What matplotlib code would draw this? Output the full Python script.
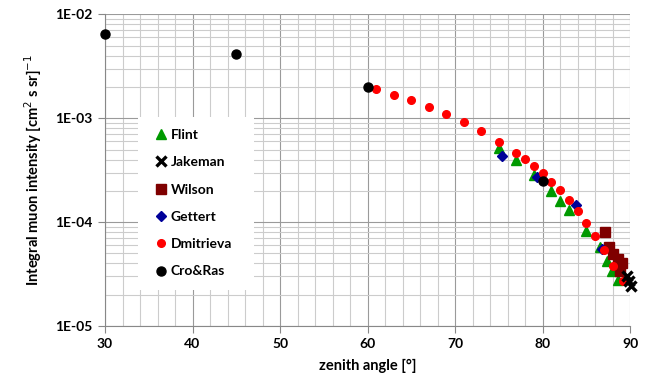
import math
import matplotlib
matplotlib.use("Agg")
import matplotlib.pyplot as plt
from matplotlib.patches import Rectangle
from matplotlib.ticker import LogLocator, MultipleLocator, FuncFormatter

plt.rcParams['font.family'] = ['Lato', 'DejaVu Sans']

# valeurs
flint_x = [75, 77, 79, 81, 82, 83, 85, 86.6, 87.4, 87.9, 88.6]
flint_y = [5.15e-4, 4.0e-4, 2.85e-4, 2.01e-4, 1.61e-4, 1.31e-4, 8.2e-5, 5.8e-5, 4.2e-5, 3.35e-5, 2.75e-5]

jakeman_x = [89.7, 89.9, 90.1]
jakeman_y = [3.0e-5, 2.7e-5, 2.4e-5]

wilson_x = [87.1, 87.6, 88.1, 88.6, 89.1, 88.8]
wilson_y = [8.1e-5, 5.8e-5, 4.95e-5, 4.4e-5, 4.0e-5, 3.4e-5]

gettert_x = [75.4, 79.4, 83.8, 86.75]
gettert_y = [4.36e-4, 2.71e-4, 1.47e-4, 5.5e-5]

dmitrieva_x = [61, 63, 65, 67, 69, 71, 73, 75, 77, 78, 79, 80, 81, 82, 83, 84, 85, 86, 87, 88, 89.2]
dmitrieva_y = [1.91e-3, 1.68e-3, 1.49e-3, 1.28e-3, 1.09e-3, 9.2e-4, 7.5e-4, 5.95e-4, 4.67e-4, 4.03e-4,
               3.48e-4, 2.96e-4, 2.45e-4, 2.03e-4, 1.64e-4, 1.29e-4, 9.8e-5, 7.3e-5, 5.4e-5, 3.75e-5, 2.7e-5]

croras_x = [30, 45, 60, 80]
croras_y = [6.5e-3, 4.2e-3, 2.0e-3, 2.5e-4]

fig = plt.figure(figsize=(6.49, 3.89), dpi=100)
ax = fig.add_axes([0.1618, 0.162, 0.809, 0.801])

ax.set_yscale("log")
ax.set_xlim(30, 90)
ax.set_ylim(1e-5, 1e-2)

# grille facon Excel
ax.xaxis.set_major_locator(MultipleLocator(10))
ax.xaxis.set_minor_locator(MultipleLocator(2))
ax.yaxis.set_major_locator(LogLocator(base=10, numticks=10))
ax.yaxis.set_minor_locator(LogLocator(base=10, subs=range(2, 10), numticks=20))
ax.yaxis.set_major_formatter(FuncFormatter(lambda v, p: "1E-%02d" % round(-math.log10(v))))
ax.yaxis.set_minor_formatter(FuncFormatter(lambda v, p: ""))
ax.grid(which="major", color="#9a9a9a", linewidth=0.8)
ax.grid(which="minor", color="#cccccc", linewidth=0.8)
ax.set_axisbelow(True)
for s in ["top", "right"]:
    ax.spines[s].set_visible(False)
ax.spines["left"].set_color("#888888")
ax.spines["bottom"].set_color("#888888")
ax.tick_params(which="major", direction="out", length=5, color="#888888", labelsize=10, pad=4)
ax.tick_params(which="minor", length=0)
for lab in ax.get_xticklabels() + ax.get_yticklabels():
    lab.set_fontweight("bold")

ax.plot(flint_x, flint_y, "^", color="#009900", ms=7.5, ls="none", label="Flint", zorder=3)
ax.plot(jakeman_x, jakeman_y, "x", color="black", ms=7, mew=2.4, ls="none", label="Jakeman", zorder=7, clip_on=False)
ax.plot(wilson_x, wilson_y, "s", color="#7f0000", ms=7, ls="none", label="Wilson", zorder=3)
ax.plot(gettert_x, gettert_y, "D", color="#000099", ms=5.5, ls="none", label="Gettert", zorder=4)
ax.plot(dmitrieva_x, dmitrieva_y, "o", color="#ff0000", ms=5.5, ls="none", label="Dmitrieva", zorder=5)
ax.plot(croras_x, croras_y, "o", color="black", ms=6.5, ls="none", label="Cro&Ras", zorder=6, clip_on=False)

# fond blanc de la legende
ax.add_patch(Rectangle((0.063, 0.115), 0.22, 0.555, transform=ax.transAxes,
                       facecolor="white", edgecolor="none", zorder=2))
leg = ax.legend(loc="upper left", bbox_to_anchor=(0.085, 0.65), frameon=False,
                handlelength=0.8, handletextpad=0.3, labelspacing=1.1, borderaxespad=0,
                prop={"weight": "bold", "size": 10})
leg.set_zorder(8)

ax.set_xlabel("zenith angle [°]", fontsize=10.5, fontweight="bold", labelpad=6)
ax.set_ylabel("Integral muon intensity [cm$^2$ s sr]$^{-1}$", fontsize=10.5, fontweight="bold", labelpad=8)

fig.savefig("out.png", dpi=100)
